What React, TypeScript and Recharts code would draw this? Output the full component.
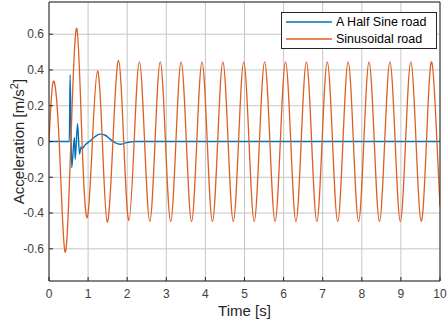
import React from 'react';
import { LineChart, Line, XAxis, YAxis, CartesianGrid, Legend } from 'recharts';

const FONT = '"Liberation Sans", Arial, Helvetica, sans-serif';
const AXIS = '#262626';

const xTicks = [0, 1, 2, 3, 4, 5, 6, 7, 8, 9, 10];
const yTicks = [-0.6, -0.4, -0.2, 0, 0.2, 0.4, 0.6];

const seriesNames = ['A Half Sine road', 'Sinusoidal road'];
const seriesColors = ['#0072BD', '#DE5F24'];

// response to a half sine bump
const bumpTime = [0, 0.52, 0.54, 0.58, 0.65, 0.67, 0.73, 0.78, 0.82, 0.85, 0.92, 1.05, 1.18, 1.31, 1.44, 1.56, 1.69, 1.82, 1.99, 2.21, 10];
const bumpAcc = [0, 0, 0.373, -0.146, 0.022, -0.1, 0.1, -0.07, -0.03, -0.04, -0.02, 0.003, 0.028, 0.041, 0.035, 0.013, -0.006, -0.015, -0.006, 0, 0];

// response to the sinusoidal road (peaks, troughs and zero crossings)
const sineTime = [
  0, 0.11, 0.26, 0.41, 0.56, 0.71, 0.845, 0.98, 1.11, 1.24, 1.365, 1.49, 1.635,
  1.777, 1.911, 2.044, 2.178, 2.311, 2.445, 2.578, 2.712, 2.845, 2.979, 3.112, 3.246,
  3.379, 3.513, 3.646, 3.78, 3.913, 4.047, 4.18, 4.314, 4.447, 4.581, 4.714, 4.848,
  4.981, 5.115, 5.248, 5.382, 5.515, 5.649, 5.782, 5.916, 6.049, 6.183, 6.316, 6.45,
  6.583, 6.717, 6.85, 6.984, 7.117, 7.251, 7.384, 7.518, 7.651, 7.785, 7.918, 8.052,
  8.185, 8.319, 8.452, 8.586, 8.719, 8.853, 8.986, 9.12, 9.253, 9.387, 9.52, 9.654,
  9.787, 9.921, 10,
];
const sineAcc = [
  0, 0.336, 0, -0.618, 0, 0.633, 0, -0.425, 0, 0.394, 0, -0.451, 0,
  0.454, 0, -0.442, 0, 0.445, 0, -0.447, 0, 0.445, 0, -0.447, 0,
  0.445, 0, -0.447, 0, 0.445, 0, -0.447, 0, 0.445, 0, -0.447, 0,
  0.445, 0, -0.447, 0, 0.445, 0, -0.447, 0, 0.445, 0, -0.447, 0,
  0.445, 0, -0.447, 0, 0.445, 0, -0.447, 0, 0.445, 0, -0.447, 0,
  0.445, 0, -0.447, 0, 0.445, 0, -0.447, 0, 0.445, 0, -0.447, 0,
  0.445, 0, -0.36,
];

const bumpData = bumpTime.map((t, i) => ({ t, bump: bumpAcc[i] }));
const sineData = sineTime.map((t, i) => ({ t, road: sineAcc[i] }));

const fmtY = (v: number) => (v === 0 ? '0' : v.toFixed(1));

const YLabel = ({ viewBox }: any) => {
  const x = viewBox.x + 24;
  const y = viewBox.y + viewBox.height / 2;
  return (
    <text x={x} y={y} transform={`rotate(-90 ${x} ${y})`} textAnchor="middle" fontSize={15} fontFamily={FONT} fill={AXIS}>
      Acceleration [m/s<tspan dy={-6} fontSize={11}>2</tspan><tspan dy={6}>]</tspan>
    </text>
  );
};

const XLabel = ({ viewBox }: any) => (
  <text x={viewBox.x + viewBox.width / 2} y={viewBox.y + 35} textAnchor="middle" fontSize={15} fontFamily={FONT} fill={AXIS}>
    Time [s]
  </text>
);

const LegendBox = () => (
  <div style={{ border: `1px solid ${AXIS}`, background: '#fff', fontFamily: FONT, fontSize: 12.5, color: '#000', width: 154 }}>
    {seriesNames.map((name, i) => (
      <div key={name} style={{ display: 'flex', alignItems: 'center', height: 17.5 }}>
        <svg width={54} height={4} style={{ display: 'block' }}>
          <line x1={4} x2={50} y1={2} y2={2} stroke={seriesColors[i]} strokeWidth={1.5} />
        </svg>
        <span>{name}</span>
      </div>
    ))}
  </div>
);

export default function App() {
  const tickStyle = { fontSize: 12, fontFamily: FONT, fill: '#404040' };
  return (
    <div style={{ position: 'absolute', left: 0, top: 0, background: '#fff' }}>
      <LineChart width={448} height={322} margin={{ top: 2, right: 8, bottom: 0, left: 0 }}>
        <CartesianGrid stroke="#c6c6c6" />
        <XAxis
          type="number" dataKey="t" domain={[0, 10]} ticks={xTicks} allowDataOverflow
          height={41} stroke={AXIS} tick={tickStyle} tickSize={-4} tickMargin={12}
          label={<XLabel />}
        />
        <XAxis xAxisId="top" orientation="top" type="number" domain={[0, 10]} ticks={xTicks}
          height={1} stroke={AXIS} tick={false} mirror tickSize={4} />
        <YAxis
          type="number" domain={[-0.78, 0.78]} ticks={yTicks} allowDataOverflow
          width={49} stroke={AXIS} tick={tickStyle} tickFormatter={fmtY} tickSize={-4} tickMargin={9}
          label={<YLabel />}
        />
        <YAxis yAxisId="right" orientation="right" type="number" domain={[-0.78, 0.78]} ticks={yTicks}
          width={1} stroke={AXIS} tick={false} mirror tickSize={4} />
        <Line data={bumpData} dataKey="bump" name={seriesNames[0]} type="monotone" stroke={seriesColors[0]}
          strokeWidth={1.4} dot={false} isAnimationActive={false} />
        <Line data={sineData} dataKey="road" name={seriesNames[1]} type="natural" stroke={seriesColors[1]}
          strokeWidth={1.3} dot={false} isAnimationActive={false} />
        <Legend layout="vertical" align="center" verticalAlign="middle" content={<LegendBox />}
          wrapperStyle={{ left: 281, top: 12, width: 156 }} />
      </LineChart>
    </div>
  );
}
